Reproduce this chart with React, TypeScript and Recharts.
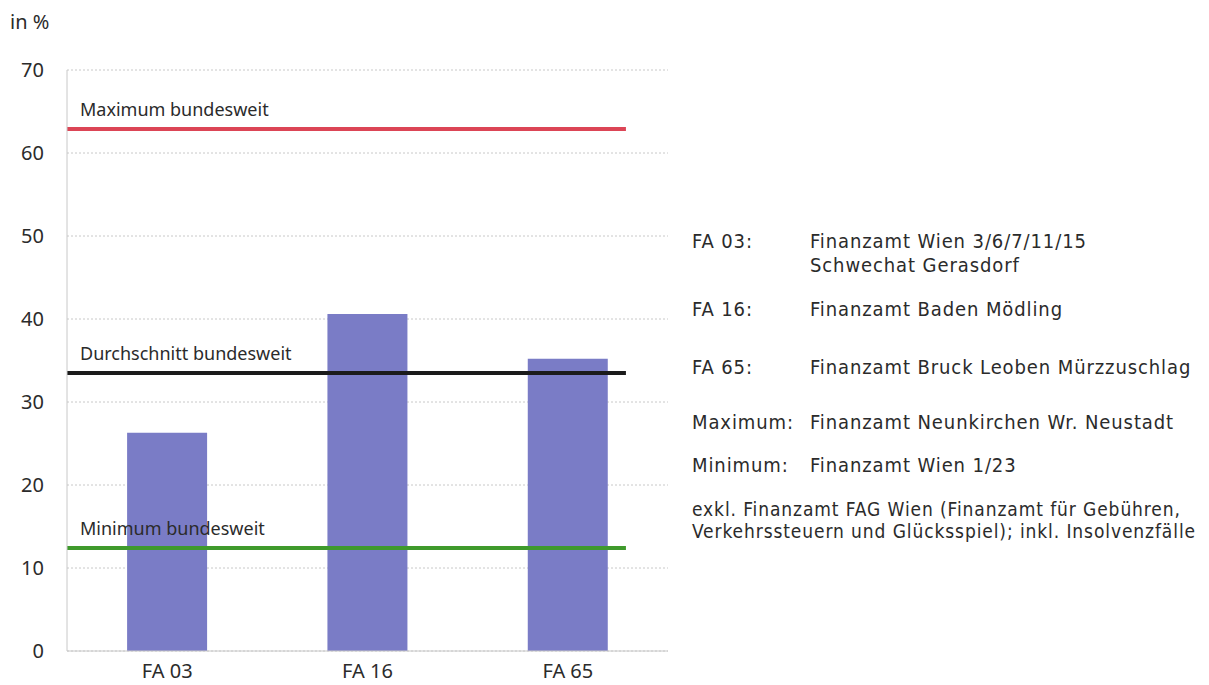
import { BarChart, Bar, XAxis, YAxis, CartesianGrid, ReferenceLine } from "recharts";

const categories = ["FA 03", "FA 16", "FA 65"];
const quote = [26.3, 40.6, 35.2];
const yTicks = [0, 10, 20, 30, 40, 50, 60, 70];

const maxBund = 62.9;
const avgBund = 33.5;
const minBund = 12.4;
// the horizontal lines stop short of the right edge (share of plot width)
const lineShare = 0.93;

const notes = [
  { key: "FA 03:", lines: ["Finanzamt Wien 3/6/7/11/15", "Schwechat Gerasdorf"], top: 229 },
  { key: "FA 16:", lines: ["Finanzamt Baden Mödling"], top: 297 },
  { key: "FA 65:", lines: ["Finanzamt Bruck Leoben Mürzzuschlag"], top: 355 },
  { key: "Maximum:", lines: ["Finanzamt Neunkirchen Wr. Neustadt"], top: 410 },
  { key: "Minimum:", lines: ["Finanzamt Wien 1/23"], top: 453 },
];
const footnote = [
  "exkl. Finanzamt FAG Wien (Finanzamt für Gebühren,",
  "Verkehrssteuern und Glücksspiel); inkl. Insolvenzfälle",
];

const data = categories.map((c, i) => ({ name: c, value: quote[i] }));

const FONT = "'Noto Sans', sans-serif";
const NOTE_FONT = "'DejaVu Sans Condensed', 'DejaVu Sans', sans-serif";
const TEXT = "#2b2b2b";

const lineLabel = (value: string) => ({
  value,
  position: "insideBottomLeft" as const,
  offset: 13,
  fill: TEXT,
  fontSize: 18,
  fontFamily: FONT,
});

const ShortLine = (props: any) => {
  const { x1, x2, y1, stroke, strokeWidth } = props;
  if (x1 == null || x2 == null) return null;
  return (
    <line x1={x1} x2={x1 + (x2 - x1) * lineShare} y1={y1} y2={y1} stroke={stroke} strokeWidth={strokeWidth} />
  );
};

export default function App() {
  return (
    <div
      style={{
        position: "absolute",
        left: 0,
        top: 0,
        width: 1209,
        height: 685,
        background: "#fff",
        fontFamily: FONT,
        color: TEXT,
      }}
    >
      <div style={{ position: "absolute", left: 10, top: 8, fontSize: 20 }}>in %</div>

      <BarChart
        width={700}
        height={685}
        data={data}
        margin={{ top: 70, right: 32, left: 0, bottom: 0 }}
        barCategoryGap="30%"
      >
        <CartesianGrid vertical={false} stroke="#c8c8c8" strokeDasharray="2 2" />
        <XAxis
          dataKey="name"
          height={34}
          axisLine={{ stroke: "#c8c8c8" }}
          tickLine={false}
          tick={{ fill: TEXT, fontSize: 20, fontFamily: FONT }}
          tickMargin={7}
        />
        <YAxis
          domain={[0, 70]}
          ticks={yTicks}
          width={67}
          axisLine={{ stroke: "#c8c8c8" }}
          tickLine={false}
          tickMargin={17}
          tick={{ fill: TEXT, fontSize: 20, fontFamily: FONT }}
        />
        <YAxis
          yAxisId="right"
          orientation="right"
          domain={[0, 70]}
          width={0}
          tick={false}
          tickLine={false}
          axisLine={{ stroke: "#d0d0d0", strokeDasharray: "2 2" }}
        />
        <Bar dataKey="value" fill="#7a7cc6" isAnimationActive={false} />
        <ReferenceLine
          y={maxBund}
          stroke="#dc4556"
          strokeWidth={4}
          shape={ShortLine}
          label={lineLabel("Maximum bundesweit")}
        />
        <ReferenceLine
          y={avgBund}
          stroke="#1b1b1b"
          strokeWidth={4}
          shape={ShortLine}
          label={lineLabel("Durchschnitt bundesweit")}
        />
        <ReferenceLine
          y={minBund}
          stroke="#3f9a2c"
          strokeWidth={4}
          shape={ShortLine}
          label={lineLabel("Minimum bundesweit")}
        />
      </BarChart>

      {notes.map((n) => (
        <div
          key={n.key}
          style={{
            position: "absolute",
            left: 692,
            top: n.top,
            fontSize: 20,
            lineHeight: "24px",
            letterSpacing: 0.9,
            fontFamily: NOTE_FONT,
          }}
        >
          <div style={{ position: "absolute", left: 0, top: 0, whiteSpace: "nowrap" }}>{n.key}</div>
          <div style={{ position: "absolute", left: 118, top: 0, whiteSpace: "nowrap" }}>
            {n.lines.map((l) => (
              <div key={l}>{l}</div>
            ))}
          </div>
        </div>
      ))}
      <div
        style={{
          position: "absolute",
          left: 692,
          top: 498,
          fontSize: 19,
          lineHeight: "22px",
          letterSpacing: 0.9,
          whiteSpace: "nowrap",
          fontFamily: NOTE_FONT,
        }}
      >
        {footnote.map((l) => (
          <div key={l}>{l}</div>
        ))}
      </div>
    </div>
  );
}
